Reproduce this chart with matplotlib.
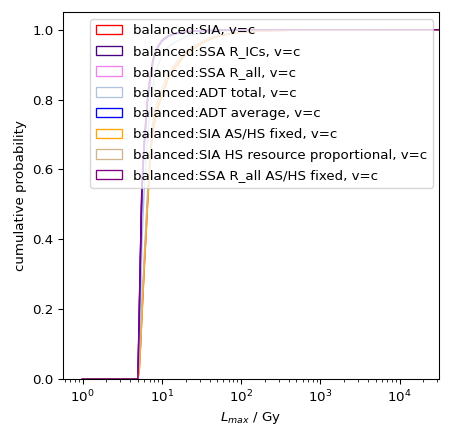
import numpy as np
import matplotlib
matplotlib.use("Agg")
import matplotlib.pyplot as plt
from matplotlib.patches import Patch

# L_max values (Gy) at which the cumulative probability was read
edges = [1, 5.0, 5.2, 5.4, 5.6, 5.8, 6.0, 6.3, 6.6, 7.0, 7.5, 8.0, 9.0, 10, 12,
         14, 17, 20, 25, 32, 40, 55, 75, 100, 200, 500, 1e5]

# cumulative probability at each of the points above (after the first)
sia = [0, .03, .10, .18, .25, .32, .41, .50, .60, .69, .73, .78, .81, .86,
       .885, .91, .93, .945, .962, .972, .984, .989, .993, .997, .999, 1.0]
ssa_rics = [0, .19, .37, .54, .61, .67, .74, .80, .85, .895, .925, .952, .968, .982,
            .988, .992, .995, .996, .997, .998, .999, .999, 1.0, 1.0, 1.0, 1.0]
ssa_rall = [0, .17, .35, .52, .60, .66, .73, .79, .84, .89, .92, .950, .966, .981,
            .987, .991, .994, .996, .997, .998, .999, .999, 1.0, 1.0, 1.0, 1.0]
adt_total = [0, .08, .22, .38, .47, .54, .62, .69, .76, .82, .86, .90, .925, .950,
             .962, .972, .980, .986, .990, .993, .996, .998, .999, 1.0, 1.0, 1.0]
adt_avg = [0, .18, .36, .53, .60, .665, .735, .795, .845, .893, .923, .951, .967, .981,
           .987, .991, .994, .996, .997, .998, .999, .999, 1.0, 1.0, 1.0, 1.0]
sia_ashs = [0, .02, .09, .17, .24, .31, .40, .49, .59, .69, .73, .78, .81, .86,
            .885, .91, .93, .945, .962, .972, .984, .989, .993, .997, .999, 1.0]
sia_hs_prop = [0, .04, .12, .21, .28, .35, .44, .53, .63, .72, .76, .80, .83, .875,
               .895, .92, .94, .952, .966, .976, .986, .990, .994, .997, .999, 1.0]
ssa_rall_ashs = [0, .20, .38, .55, .62, .68, .745, .805, .855, .90, .928, .954, .970, .983,
                 .989, .993, .995, .997, .998, .998, .999, .999, 1.0, 1.0, 1.0, 1.0]

labels = ["balanced:SIA, v=c", "balanced:SSA R_ICs, v=c", "balanced:SSA R_all, v=c",
          "balanced:ADT total, v=c", "balanced:ADT average, v=c",
          "balanced:SIA AS/HS fixed, v=c", "balanced:SIA HS resource proportional, v=c",
          "balanced:SSA R_all AS/HS fixed, v=c"]
colors = ["red", "indigo", "violet", "lightsteelblue", "blue", "orange", "tan", "purple"]
series = [sia, ssa_rics, ssa_rall, adt_total, adt_avg, sia_ashs, sia_hs_prop, ssa_rall_ashs]

dpi = 96
fig = plt.figure(figsize=(451 / dpi, 438 / dpi), dpi=dpi)
ax = fig.add_axes([0.139, 0.1347, 0.835, 0.8372])

handles = []
for vals, lab, col in zip(series, labels, colors):
    ax.plot(edges, [0] + vals, color=col, linewidth=1.1)
    handles.append(Patch(facecolor="none", edgecolor=col, label=lab))

ax.set_xscale("log")
ax.set_xlim(10 ** -0.25, 10 ** 4.5)
ax.set_ylim(0, 1.05)
ax.set_xlabel("$L_{max}$ / Gy")
ax.set_ylabel("cumulative probability")
ax.legend(handles=handles, loc="upper right", labelspacing=0.58)

fig.savefig("out.png", dpi=dpi)
